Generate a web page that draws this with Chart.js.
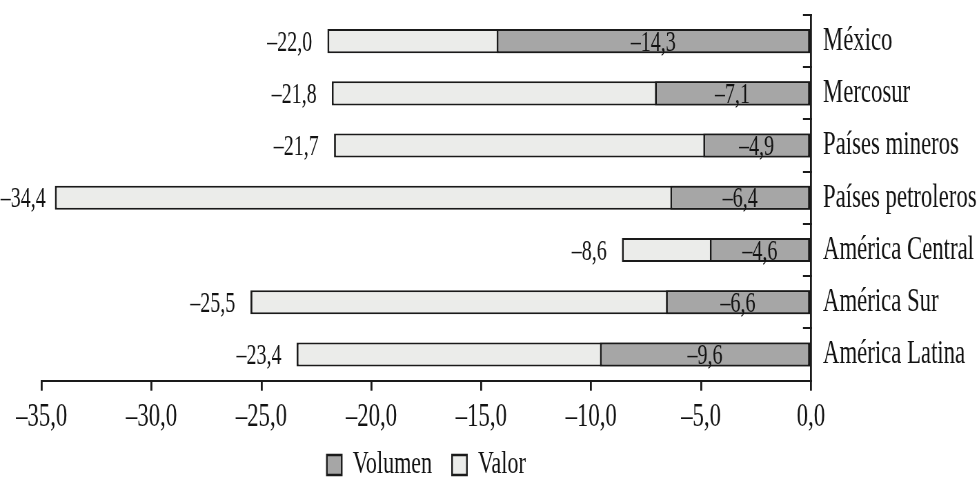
<!DOCTYPE html>
<html><head><meta charset="utf-8">
<script src="https://cdn.jsdelivr.net/npm/chart.js@4"></script>
<style>
html,body{margin:0;padding:0;background:#fff;overflow:hidden;width:979px;height:479px}
#wrap{width:1419px;height:479px;transform:scaleX(0.68992);transform-origin:0 0}
canvas{display:block}
</style></head><body>
<div id="wrap"><canvas id="c" width="1419" height="479"></canvas></div>
<script>
const categories = ['México','Mercosur','Países mineros','Países petroleros','América Central','América Sur','América Latina'];
const seriesNames = ['Volumen','Valor'];
const volumen = [-14.3, -7.1, -4.9, -6.4, -4.6, -6.6, -9.6];
const valor = [-22.0, -21.8, -21.7, -34.4, -8.6, -25.5, -23.4];
const xTicks = [-35, -30, -25, -20, -15, -10, -5, 0];

const TEXT = '#121212';
const FONT = '"Liberation Serif", "Times New Roman", serif';
const fmt = v => (v < 0 ? '\u2013' : '') + Math.abs(v).toFixed(1).replace('.', ',');

const labelPlugin = {
  id: 'barLabels',
  afterLayout(chart) {
    // place legend below the axis labels (its padding also spaces the items horizontally)
    const lg = chart.legend;
    if (lg) { const h = lg.bottom - lg.top; lg.top = 420; lg.bottom = 420 + h; }
  },
  afterDatasetsDraw(chart) {
    const ctx = chart.ctx;
    ctx.save();
    ctx.font = '29px ' + FONT;
    ctx.fillStyle = TEXT;
    ctx.textBaseline = 'middle';
    chart.data.datasets.forEach((ds, di) => {
      const meta = chart.getDatasetMeta(di);
      meta.data.forEach((el, i) => {
        const t = fmt(ds.data[i]);
        if (di === 0) {
          ctx.textAlign = 'center';
          ctx.fillText(t, (el.x + el.base) / 2, el.y + 2);
        } else {
          ctx.textAlign = 'right';
          const w = ctx.measureText(t).width;
          ctx.fillText(t, Math.max(el.x - 22, w + 1), el.y + 2);
        }
      });
    });
    ctx.restore();
  }
};

new Chart(document.getElementById('c'), {
  type: 'bar',
  data: {
    labels: categories,
    datasets: [
      { label: seriesNames[0], data: volumen, backgroundColor: '#a6a6a6', borderColor: '#1a1a1a',
        borderWidth: {top: 2, bottom: 2, left: 2.8, right: 2.8}, borderSkipped: false },
      { label: seriesNames[1], data: valor, backgroundColor: '#ebecea', borderColor: '#1a1a1a',
        borderWidth: {top: 2, bottom: 2, left: 2.8, right: 2.8}, borderSkipped: false }
    ]
  },
  options: {
    indexAxis: 'y',
    responsive: false,
    animation: false,
    devicePixelRatio: 1,
    datasets: { bar: { grouped: false, barPercentage: 0.46, categoryPercentage: 1 } },
    layout: { padding: { top: 15, left: 60.4, right: 0, bottom: -27.7 } },
    plugins: {
      tooltip: { enabled: false },
      legend: {
        position: 'bottom',
        fullSize: false,
        labels: {
          color: TEXT,
          font: { family: FONT, size: 32 },
          boxWidth: 21.5,
          boxHeight: 20,
          padding: 29
        }
      }
    },
    scales: {
      x: {
        min: -35, max: 0,
        afterBuildTicks: s => { s.ticks = xTicks.map(v => ({ value: v })); },
        afterFit: s => { s.height = 55; s.paddingLeft = 0; s.paddingRight = 0; },
        border: { display: true, color: '#1a1a1a', width: 2 },
        grid: { drawOnChartArea: false, drawTicks: true, tickLength: 10, color: '#1a1a1a', lineWidth: 2.8 },
        ticks: { color: TEXT, font: { family: FONT, size: 33 }, padding: 7, maxRotation: 0, autoSkip: false,
          callback: v => fmt(v) }
      },
      y: {
        position: 'right',
        afterFit: s => { s.width = 243.6; s.paddingTop = 0; s.paddingBottom = 0; },
        border: { display: true, color: '#1a1a1a', width: 2.8 },
        grid: { drawOnChartArea: false, drawTicks: true, tickLength: -11.6, color: '#1a1a1a', lineWidth: 2, offset: true },
        ticks: { color: TEXT, font: { family: FONT, size: 33 }, padding: 29 }
      }
    }
  },
  plugins: [labelPlugin]
});
</script>
</body></html>
